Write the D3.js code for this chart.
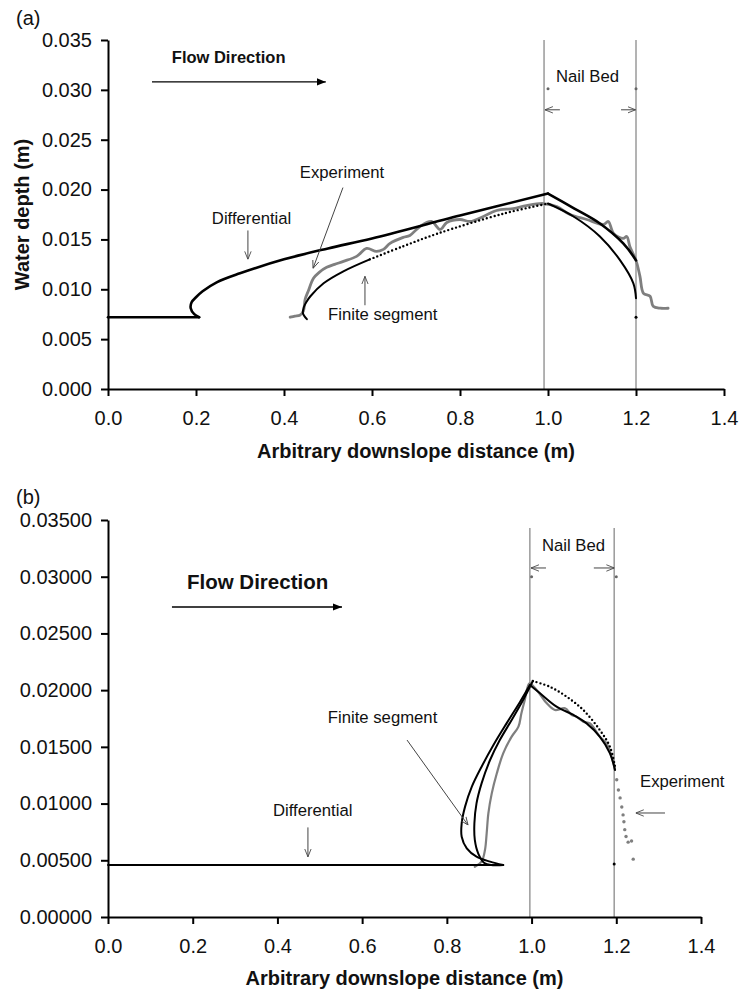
<!DOCTYPE html>
<html><head><meta charset="utf-8">
<script src="https://cdn.jsdelivr.net/npm/d3@7"></script>
<style>
body{margin:0;background:#fff;}
svg{display:block;font-family:"Liberation Sans",Arial,sans-serif;}
</style></head>
<body><svg id="c" width="740" height="994"></svg>
<script>
// ---------- DATA ----------
const xTickValues = [0, 0.2, 0.4, 0.6, 0.8, 1.0, 1.2, 1.4];
const yTickValues = [0, 0.005, 0.010, 0.015, 0.020, 0.025, 0.030, 0.035];
const xLabelTitle = "Arbitrary downslope distance (m)";
const yLabelTitleA = "Water depth (m)";

// Panel (a)
const diffA_flat = [[0,0.0072],[0.207,0.0072]];
const diffA_rise = [[0.207,0.0072],[0.196,0.0075],[0.188,0.0081],[0.190,0.0087],[0.200,0.0092],[0.215,0.0098],[0.247,0.0107],[0.300,0.0116],[0.400,0.0130],[0.500,0.0141],[0.600,0.0151],[0.800,0.0174],[1.000,0.0196]];
const diffA_fall = [[1.000,0.0196],[1.060,0.0181],[1.118,0.0166],[1.171,0.0146],[1.200,0.0129]];
const finA_low = [[0.452,0.0070],[0.443,0.0076],[0.445,0.0082],[0.452,0.0088],[0.460,0.0093],[0.490,0.0106],[0.535,0.0118],[0.595,0.0130]];
const finA_mid = [[0.595,0.0130],[0.670,0.0143],[0.750,0.0156],[0.900,0.0176],[1.000,0.0186]];
const finA_fall = [[1.000,0.0186],[1.058,0.0173],[1.118,0.0153],[1.164,0.0129],[1.194,0.0106],[1.200,0.0091]];
const expA = [[0.414,0.0072],[0.425,0.0073],[0.436,0.0074],[0.444,0.0078],[0.448,0.0090],[0.455,0.0098],[0.467,0.0111],[0.480,0.0117],[0.497,0.0122],[0.515,0.0125],[0.535,0.0128],[0.565,0.0133],[0.588,0.0141],[0.610,0.0138],[0.626,0.0140],[0.641,0.0146],[0.671,0.0152],[0.686,0.0154],[0.709,0.0163],[0.735,0.0168],[0.755,0.0160],[0.770,0.0167],[0.800,0.0170],[0.823,0.0168],[0.853,0.0173],[0.883,0.0179],[0.921,0.0181],[0.951,0.0184],[0.989,0.0186],[1.020,0.0183],[1.050,0.0175],[1.088,0.0170],[1.126,0.0165],[1.137,0.0168],[1.149,0.0156],[1.171,0.0151],[1.179,0.0153],[1.186,0.0143],[1.200,0.0129],[1.209,0.0113],[1.217,0.0096],[1.232,0.0093],[1.239,0.0083],[1.255,0.0081],[1.273,0.0081]];
const nailBedA = [0.991, 1.200];
const markersGrayA = [[1.000,0.0301],[1.200,0.0301]];
const markersBlackA = [[1.200,0.0072]];

// Panel (b)
const diffB_flat = [[0,0.00458],[0.933,0.00458]];
const diffB_rise = [[0.933,0.00458],[0.902,0.00488],[0.870,0.00532],[0.847,0.00605],[0.835,0.00708],[0.835,0.00826],[0.843,0.00973],[0.859,0.01149],[0.882,0.01325],[0.910,0.01516],[0.941,0.01707],[0.973,0.01898],[0.996,0.02045]];
const diffB_fall = [[0.996,0.02045],[1.020,0.01972],[1.059,0.01854],[1.099,0.01781],[1.130,0.01707],[1.161,0.01590],[1.185,0.01443],[1.197,0.01296]];
const finB_rise = [[0.933,0.00458],[0.890,0.00473],[0.874,0.00561],[0.866,0.00679],[0.865,0.00826],[0.870,0.01002],[0.882,0.01178],[0.902,0.01384],[0.925,0.01560],[0.953,0.01737],[0.980,0.01913],[1.003,0.02080]];
const finB_fall = [[1.003,0.02080],[1.043,0.02030],[1.083,0.01942],[1.122,0.01825],[1.161,0.01649],[1.185,0.01501],[1.197,0.01325]];
const expB = [[0.866,0.00443],[0.882,0.00488],[0.890,0.00591],[0.894,0.00738],[0.898,0.00914],[0.906,0.01090],[0.918,0.01267],[0.933,0.01443],[0.953,0.01590],[0.969,0.01678],[0.976,0.01796],[0.984,0.01913],[0.995,0.02060],[1.012,0.02001],[1.036,0.01884],[1.055,0.01825],[1.079,0.01840],[1.095,0.01781],[1.106,0.01766],[1.122,0.01722],[1.138,0.01707],[1.161,0.01590],[1.177,0.01531],[1.189,0.01413],[1.197,0.01296]];
const expB_tail = [[1.201,0.0121],[1.205,0.0112],[1.209,0.0105],[1.213,0.0097],[1.216,0.0090],[1.218,0.0084],[1.220,0.0077],[1.223,0.0071],[1.228,0.0066],[1.236,0.0067],[1.240,0.0051]];
const nailBedB = [0.996, 1.195];
const markersGrayB = [[1.000,0.0300],[1.200,0.0300]];
const markersBlackB = [[1.195,0.00467]];

// ---------- DRAW ----------
const svg = d3.select("#c");
const gray = "#7f7f7f";
const defs = svg.append("defs");
defs.append("marker").attr("id","open").attr("viewBox","0 0 10 10").attr("refX",10).attr("refY",5)
  .attr("markerWidth",8).attr("markerHeight",8).attr("markerUnits","userSpaceOnUse").attr("orient","auto")
  .append("path").attr("d","M0,1 L10,5 L0,9").attr("fill","none").attr("stroke","#444").attr("stroke-width",1.1);
defs.append("marker").attr("id","solid").attr("viewBox","0 0 10 10").attr("refX",10).attr("refY",5)
  .attr("markerWidth",9).attr("markerHeight",9).attr("markerUnits","userSpaceOnUse").attr("orient","auto")
  .append("path").attr("d","M0,1 L10,5 L0,9 Z").attr("fill","#000");

function panel(cfg){
  const {x, y, yFmt, label, labelY, titleY, yTitle, anns} = cfg;
  const g = svg.append("g");
  g.selectAll(".nb").data(cfg.nailBed).enter().append("line")
    .attr("x1",d=>x(d)).attr("x2",d=>x(d)).attr("y1",y(0)).attr("y2",y(cfg.nbTop))
    .attr("stroke","#8a8a8a").attr("stroke-width",1.3);
  const ax = g.append("g").attr("transform",`translate(0,${y(0)})`)
    .call(d3.axisBottom(x).tickValues(xTickValues).tickFormat(d3.format(".1f")).tickSize(7).tickSizeOuter(0).tickPadding(15));
  const ay = g.append("g").attr("transform",`translate(${x(0)},0)`)
    .call(d3.axisLeft(y).tickValues(yTickValues).tickFormat(d3.format(yFmt)).tickSize(7).tickSizeOuter(0).tickPadding(9));
  [ax, ay].forEach(a=>{
    a.select(".domain").attr("stroke","#000").attr("stroke-width",2);
    a.selectAll(".tick line").attr("stroke","#000").attr("stroke-width",2);
    a.selectAll(".tick text").attr("font-size",20).attr("fill","#111").attr("font-family","Liberation Sans, Arial, sans-serif");
  });
  const smooth = d3.line().x(d=>x(d[0])).y(d=>y(d[1])).curve(d3.curveCatmullRom.alpha(0.5));
  const straight = d3.line().x(d=>x(d[0])).y(d=>y(d[1]));
  cfg.series.forEach(s => g.append("path").datum(s.data).attr("d", s.linear ? straight : smooth).attr("fill","none")
      .attr("stroke", s.c).attr("stroke-width", s.w).attr("stroke-dasharray", s.dash||null)
      .attr("stroke-linecap", s.cap||"round").attr("stroke-linejoin","round"));
  (cfg.dots||[]).forEach(s => g.selectAll(null).data(s.data).enter().append("circle")
    .attr("cx",d=>x(d[0])).attr("cy",d=>y(d[1])).attr("r",s.r).attr("fill",s.c));
  anns.forEach(a=>{
    if(a.text) g.append("text").attr("x",x(a.tx)).attr("y",y(a.ty)).text(a.text)
      .attr("font-size",a.size||16.7).attr("font-weight",a.bold?"bold":"normal").attr("fill","#111");
    if(a.arrow) g.append("line").attr("x1",x(a.arrow[0])).attr("y1",y(a.arrow[1]))
      .attr("x2",x(a.arrow[2])).attr("y2",y(a.arrow[3]))
      .attr("stroke", a.solid?"#000":"#444").attr("stroke-width", a.solid?1.3:1)
      .attr("marker-end", a.solid?"url(#solid)":"url(#open)");
  });
  svg.append("text").attr("x",16).attr("y",labelY).text(label).attr("font-size",20).attr("fill","#111");
  const xm = (x(0)+x(1.4))/2;
  svg.append("text").attr("x",xm).attr("y",titleY).attr("text-anchor","middle").text(xLabelTitle)
    .attr("font-size",20).attr("font-weight","bold").attr("fill","#111");
  if(yTitle){
    const cy = (y(0)+y(0.035))/2;
    svg.append("text").attr("transform",`translate(29,${cy}) rotate(-90)`).attr("text-anchor","middle")
      .text(yTitle).attr("font-size",20).attr("font-weight","bold").attr("fill","#111");
  }
}

const xA = d3.scaleLinear().domain([0,1.4]).range([108,724]);
const yA = d3.scaleLinear().domain([0,0.035]).range([389,40]);
const xB = d3.scaleLinear().domain([0,1.4]).range([108,701]);
const yB = d3.scaleLinear().domain([0,0.035]).range([917,520]);

panel({x:xA, y:yA, yFmt:".3f", label:"(a)", labelY:25, titleY:458, yTitle:yLabelTitleA,
  nailBed:nailBedA, nbTop:0.035,
  series:[
    {data:expA, c:gray, w:2.8},
    {data:diffA_flat, c:"#000", w:2.6, linear:true},
    {data:diffA_rise, c:"#000", w:2.6},
    {data:diffA_fall, c:"#000", w:2.6},
    {data:finA_low, c:"#000", w:2},
    {data:finA_mid, c:"#000", w:2.4, dash:"0,4"},
    {data:finA_fall, c:"#000", w:2},
  ],
  dots:[{data:markersGrayA, c:"#666", r:1.5},{data:markersBlackA, c:"#000", r:1.5}],
  anns:[
    {text:"Flow Direction", tx:0.145, ty:0.0327, bold:true, size:16.5, arrow:[0.1,0.0308,0.495,0.0308], solid:true},
    {text:"Nail Bed", tx:1.018, ty:0.0308, arrow:[1.027,0.0280,0.993,0.0280]},
    {arrow:[1.166,0.0280,1.199,0.0280]},
    {text:"Experiment", tx:0.436, ty:0.0212, arrow:[0.534,0.0202,0.466,0.0121]},
    {text:"Differential", tx:0.236, ty:0.0165, arrow:[0.318,0.0159,0.318,0.0130]},
    {text:"Finite segment", tx:0.50, ty:0.0069, arrow:[0.584,0.0084,0.584,0.0113]},
  ]});

panel({x:xB, y:yB, yFmt:".5f", label:"(b)", labelY:504, titleY:985, yTitle:null,
  nailBed:nailBedB, nbTop:0.0343,
  series:[
    {data:expB, c:gray, w:2.2},
    {data:diffB_flat, c:"#000", w:2, linear:true},
    {data:diffB_rise, c:"#000", w:2},
    {data:diffB_fall, c:"#000", w:2},
    {data:finB_rise, c:"#000", w:2},
    {data:finB_fall, c:"#000", w:2.4, dash:"0,4"},
  ],
  dots:[{data:expB_tail, c:gray, r:1.7},{data:markersGrayB, c:"#666", r:1.5},{data:markersBlackB, c:"#000", r:1.5}],
  anns:[
    {text:"Flow Direction", tx:0.1865, ty:0.0289, bold:true, size:20.5, arrow:[0.151,0.02733,0.5524,0.02733], solid:true},
    {text:"Nail Bed", tx:1.0246, ty:0.03227, arrow:[1.034,0.03077,0.9986,0.03077]},
    {arrow:[1.147,0.03077,1.1955,0.03077]},
    {text:"Finite segment", tx:0.519, ty:0.0171, arrow:[0.706,0.0156,0.850,0.0081]},
    {text:"Differential", tx:0.3895, ty:0.0089, arrow:[0.472,0.0079,0.472,0.0053]},
    {text:"Experiment", tx:1.256, ty:0.01146, arrow:[1.315,0.00917,1.246,0.00917]},
  ]});
</script></body></html>
